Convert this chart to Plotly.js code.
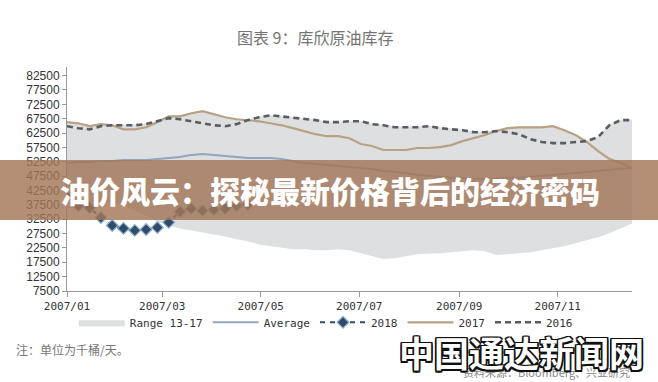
<!DOCTYPE html>
<html>
<head>
<meta charset="utf-8">
<script src="https://cdn.plot.ly/plotly-3.0.1.min.js"></script>
<style>
html,body{margin:0;padding:0;background:#fff;}
#chart{width:658px;height:382px;}
</style>
</head>
<body>
<div id="chart"></div>
<script>
// Weekly dates (generic year 2007 used by the source chart)
const weeks = [
 '2007-01-01','2007-01-08','2007-01-15','2007-01-22','2007-01-29',
 '2007-02-05','2007-02-12','2007-02-19','2007-02-26',
 '2007-03-05','2007-03-12','2007-03-19','2007-03-26',
 '2007-04-02','2007-04-09','2007-04-16','2007-04-23','2007-04-30',
 '2007-05-07','2007-05-14','2007-05-21','2007-05-28',
 '2007-06-04','2007-06-11','2007-06-18','2007-06-25',
 '2007-07-02','2007-07-09','2007-07-16','2007-07-23','2007-07-30',
 '2007-08-06','2007-08-13','2007-08-20','2007-08-27',
 '2007-09-03','2007-09-10','2007-09-17','2007-09-24',
 '2007-10-01','2007-10-08','2007-10-15','2007-10-22','2007-10-29',
 '2007-11-05','2007-11-12','2007-11-19','2007-11-26',
 '2007-12-03','2007-12-10','2007-12-17'
];

// Range 13-17 (lower / upper edge), thousand barrels
const rangeLow = [
 36000,37000,38000,38500,38000,37000,35500,33500,31700,30300,
 29300,28600,27900,27200,26500,25500,24800,23700,23100,22400,
 22000,22000,21700,21700,22000,21700,20600,19600,18600,18900,
 19600,20300,20600,20600,21000,21300,21700,21300,20000,20300,
 20600,21000,21700,22400,23100,24100,25100,26200,27600,29300,
 31000
];
const rangeHigh = [
 66500,66200,65100,65800,65500,65500,65500,65800,66900,68600,
 68600,69600,70300,69300,68200,67500,67200,68200,68900,68600,
 67900,67500,67200,66500,66500,66800,66800,65800,65500,64800,
 64800,64800,65100,64400,64100,63700,63000,63000,63400,64400,
 64800,64800,64800,65100,63700,62000,59900,61300,65500,67200,
 67200
];

// Average 13-17
const avgVals = [
 52100,52400,52400,52800,52800,53100,53100,53100,53500,53800,
 54200,54900,55200,54900,54500,54200,53800,53800,53800,53500,
 52800,52100,51700,51400,51100,50700,50400,50000,49300,49000,
 48600,48000,47600,47300,46900,46900,46600,46600,46600,46900,
 46900,47300,47600,48000,48300,48600,49000,49300,49700,50000,
 50400
];

// 2017
const v2017 = [
 66300,65900,64900,65600,65200,63800,63800,64500,66300,68300,
 68300,69400,70100,69000,68000,67300,67000,66600,65900,65200,
 64200,63200,62100,61400,61400,60700,58700,58000,56600,56600,
 56600,57300,57300,57600,58300,59700,60700,61800,63200,64200,
 64500,64500,64500,64900,63500,61800,59400,56200,53500,52100,
 50400
];

// 2016
const v2016 = [
 64900,64200,63800,64900,65200,65200,65200,65600,66600,67700,
 67300,66600,65900,65200,64900,65600,67000,68000,68700,68300,
 67700,67300,67000,66300,66300,66600,66600,65600,65200,64500,
 64500,64500,64900,64200,63800,63500,62800,62800,63200,62800,
 62100,60400,59400,59000,59000,59400,59700,61100,65200,67000,
 67000
];

// 2018 (year to date)
const v2018 = [
 40500,37200,36500,33100,30300,29300,28600,28900,29600,31400,
 35100,36200,35500,35800,36200,37200,37600
];

const monoFont = 'DejaVu Sans Mono, Liberation Mono, monospace';
const cjkFont = 'Noto Sans CJK SC, sans-serif';

const traces = [
 {x: weeks, y: rangeLow, type:'scatter', mode:'lines', line:{width:0, color:'rgba(0,0,0,0)'},
  showlegend:false, hoverinfo:'skip'},
 {x: weeks, y: rangeHigh, type:'scatter', mode:'lines', fill:'tonexty',
  fillcolor:'#dedfe0', line:{width:0, color:'#dedfe0'}, name:'Range 13-17', legendrank:1},
 {x: weeks, y: avgVals, type:'scatter', mode:'lines', line:{color:'#93a5ba', width:2},
  name:'Average', legendrank:2},
 {x: weeks, y: v2017, type:'scatter', mode:'lines', line:{color:'#b8a283', width:2.2},
  name:'2017', legendrank:4},
 {x: weeks, y: v2016, type:'scatter', mode:'lines', line:{color:'#595d63', width:2.6, dash:'6px,4px'},
  name:'2016', legendrank:5},
 {x: weeks.slice(0, v2018.length), y: v2018, type:'scatter', mode:'lines+markers',
  line:{color:'#2f4d6b', width:2, dash:'5px,5px'},
  marker:{symbol:'diamond', size:9, color:'#2f4d6b', line:{color:'#8fb0cf', width:1.2}},
  name:'2018', legendrank:3}
];

const layout = {
 width:658, height:382,
 margin:{l:67, r:26, t:67, b:91},
 paper_bgcolor:'#ffffff', plot_bgcolor:'#ffffff',
 title:{text:'图表 9：库欣原油库存', font:{family:cjkFont, size:16, color:'#747474'},
  x:0.479, xref:'container', xanchor:'center', y:0.9, yref:'container', yanchor:'middle'},
 xaxis:{type:'date', range:['2007-01-01','2007-12-17'], tick0:'2007-01-01', dtick:'M2',
  tickformat:'%Y/%m', ticks:'outside', ticklen:5, tickcolor:'#999', showline:true,
  linecolor:'#999', linewidth:1, showgrid:false, zeroline:false,
  tickfont:{family:monoFont, size:11, color:'#333'}},
 yaxis:{range:[7500, 85500], tick0:7500, dtick:5000, tickformat:'d', ticks:'outside', ticklen:4,
  tickcolor:'#999', showline:true, linecolor:'#999', linewidth:1, showgrid:false,
  zeroline:false, tickfont:{family:'Liberation Sans, Arial, sans-serif', size:12, color:'#333'}},
 showlegend:true,
 legend:{orientation:'h', traceorder:'normal', x:0.458, xanchor:'center', y:-0.075, yanchor:'top',
  itemwidth:46,
  font:{family:monoFont, size:11, color:'#333'}, bgcolor:'rgba(0,0,0,0)'},
 shapes:[
  {type:'rect', xref:'paper', yref:'paper', x0:-0.2, x1:1.2, y0:0.317, y1:0.585,
   fillcolor:'rgba(164,118,88,0.82)', line:{width:0}, layer:'above'}
 ],
 annotations:[
  {text:'油价风云：探秘最新价格背后的经济密码', xref:'paper', yref:'paper', x:0.465, y:0.451,
   xanchor:'center', yanchor:'middle', showarrow:false,
   font:{family:cjkFont, size:30, color:'#ffffff', weight:900}},
  {text:'注：单位为千桶/天。', xref:'paper', yref:'paper', x:-0.094, y:-0.263,
   xanchor:'left', yanchor:'middle', showarrow:false,
   font:{family:cjkFont, size:12, color:'#777'}},
  {text:'资料来源：Bloomberg、兴业研究', xref:'paper', yref:'paper', x:1.0, y:-0.36,
   xanchor:'right', yanchor:'middle', showarrow:false,
   font:{family:cjkFont, size:11, color:'#888'}},
  {text:'中国通达新闻网', xref:'paper', yref:'paper', x:0.804, y:-0.27,
   xanchor:'center', yanchor:'middle', showarrow:false,
   font:{family:cjkFont, size:35, color:'#ffffff', weight:700,
    shadow:'1.5px 1.5px 0 #111, -1.5px -1.5px 0 #111, 1.5px -1.5px 0 #111, -1.5px 1.5px 0 #111, 0 1.5px 0 #111, 0 -1.5px 0 #111, 1.5px 0 0 #111, -1.5px 0 0 #111'}}
 ]
};

Plotly.newPlot('chart', traces, layout, {staticPlot:true, displayModeBar:false});
</script>
</body>
</html>
